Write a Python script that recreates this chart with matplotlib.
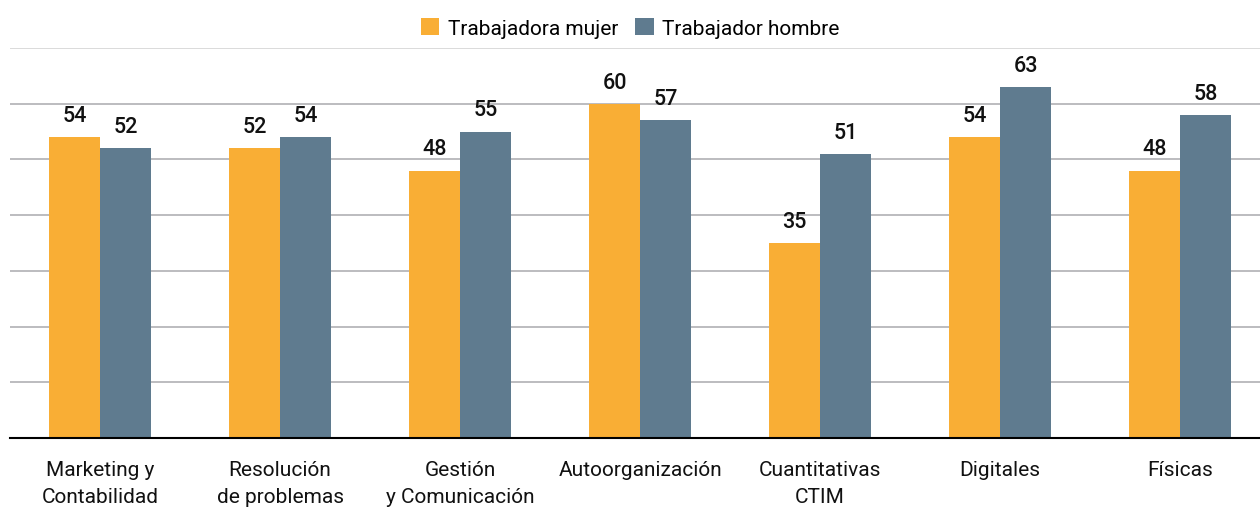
import numpy as np
import matplotlib
matplotlib.use("Agg")
import matplotlib.pyplot as plt

categories = ["Marketing y\nContabilidad", "Resolución\nde problemas", "Gestión\ny Comunicación",
              "Autoorganización", "Cuantitativas\nCTIM", "Digitales", "Físicas"]
mujer = [54, 52, 48, 60, 35, 54, 48]
hombre = [52, 54, 55, 57, 51, 63, 58]
series_names = ["Trabajadora mujer", "Trabajador hombre"]

plt.rcParams['font.family'] = ['Roboto', 'DejaVu Sans']

orange = "#F9AE35"
blue = "#5F7B8F"

fig = plt.figure(figsize=(12.6, 5.1), dpi=100)
ax = fig.add_axes([10 / 1260, 71 / 510, 1250 / 1260, 390 / 510])

x = np.arange(len(categories))
w = 0.283
b1 = ax.bar(x - w / 2, mujer, w, color=orange, label=series_names[0], zorder=3)
b2 = ax.bar(x + w / 2, hombre, w, color=blue, label=series_names[1], zorder=3)

for bars, vals in ((b1, mujer), (b2, hombre)):
    for r, v in zip(bars, vals):
        ax.annotate(str(v), (r.get_x() + r.get_width() / 2, v), xytext=(0, 8),
                    textcoords="offset points", ha="center", va="bottom",
                    fontsize=15.5, fontweight="medium", color="#111111")

ax.set_xlim(-0.5, 6.444)
ax.set_ylim(0, 70)
ax.set_yticks(np.arange(10, 71, 10))
ax.yaxis.grid(True, color="#b0b0b4", linewidth=1.2, zorder=0)
ax.get_ygridlines()[-1].set_color("#d4d4d4")
ax.set_axisbelow(True)
ax.tick_params(axis="y", left=False, labelleft=False)
ax.tick_params(axis="x", length=0, pad=16, labelsize=15)
ax.set_xticks(x)
ax.set_xticklabels(categories, linespacing=1.5, va="top", color="#111111")
for s in ("left", "right", "top"):
    ax.spines[s].set_visible(False)
ax.spines["bottom"].set_color("#000000")
ax.spines["bottom"].set_linewidth(1.5)
ax.spines["bottom"].set_zorder(4)

fig.legend(handles=[b1, b2], loc="upper center", bbox_to_anchor=(0.5, 1.0), ncol=2,
           frameon=False, fontsize=15, handlelength=0.9, handleheight=0.9,
           handletextpad=0.4, columnspacing=0.8)

fig.savefig("out.png", dpi=100)
